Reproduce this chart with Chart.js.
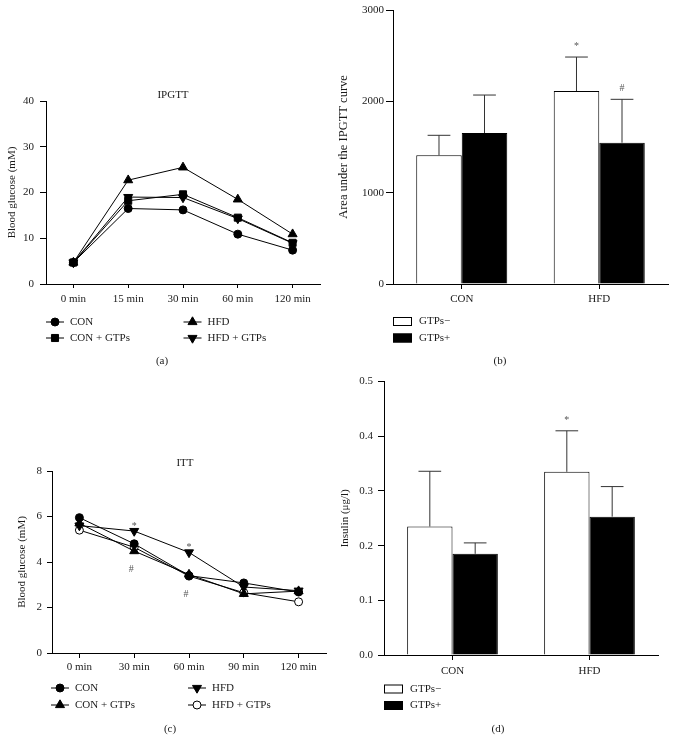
<!DOCTYPE html>
<html>
<head>
<meta charset="utf-8">
<script src="https://cdn.jsdelivr.net/npm/chart.js@4.4.1/dist/chart.umd.min.js"></script>
<style>
  html, body { margin: 0; padding: 0; background: #fff; }
  #page { position: relative; width: 676px; height: 749px; overflow: hidden; font-family: 'Liberation Serif', 'Times New Roman', serif; }
  #page canvas { position: absolute; }
  .cap { position: absolute; font-size: 11px; line-height: 12px; color: #1a1a1a; transform: translateX(-50%); }
</style>
</head>
<body>
<div id="page">
  <canvas id="chartA" width="338" height="300" style="left:0;top:80px"></canvas>
  <canvas id="chartB" width="338" height="370" style="left:338px;top:0"></canvas>
  <canvas id="chartC" width="338" height="369" style="left:0;top:380px"></canvas>
  <canvas id="chartD" width="338" height="379" style="left:338px;top:370px"></canvas>
  <div class="cap" style="left:162px;top:354px">(a)</div>
  <div class="cap" style="left:500px;top:354px">(b)</div>
  <div class="cap" style="left:170px;top:722px">(c)</div>
  <div class="cap" style="left:498px;top:722px">(d)</div>
</div>
<script>
"use strict"
// (a) IPGTT
const ipgttTimes = ["0 min", "15 min", "30 min", "60 min", "120 min"];
const ipgttCon = [4.7, 16.5, 16.2, 10.9, 7.4];
const ipgttConGtp = [4.7, 18.2, 19.6, 14.5, 9.0];
const ipgttHfd = [4.7, 22.7, 25.5, 18.5, 10.9];
const ipgttHfdGtp = [4.7, 19.0, 18.9, 14.3, 8.9];

// (b) area under the IPGTT curve
const groups = ["CON", "HFD"];
const aucMinus = [1409, 2113];
const aucMinusErr = [219, 372];
const aucPlus = [1653, 1547];
const aucPlusErr = [416, 475];
const aucMinusSig = ["", "*"];
const aucPlusSig = ["", "#"];

// (c) ITT
const ittTimes = ["0 min", "30 min", "60 min", "90 min", "120 min"];
const ittCon = [5.95, 4.8, 3.4, 3.08, 2.68];
const ittConGtp = [5.7, 4.48, 3.45, 2.6, 2.72];
const ittHfd = [5.6, 5.36, 4.42, 2.9, 2.74];
const ittHfdGtp = [5.4, 4.65, 3.38, 2.65, 2.25];
const ittHfdSig = ["", "*", "*", "", ""];
const ittGtpSig = ["", "#", "#", "", ""];

// (d) insulin
const insMinus = [0.235, 0.335];
const insMinusErr = [0.101, 0.075];
const insPlus = [0.185, 0.253];
const insPlusErr = [0.020, 0.055];
const insMinusSig = ["", "*"];

const FONT = "'Liberation Serif', 'Times New Roman', serif";
Chart.defaults.font.family = FONT;
Chart.defaults.font.size = 11;
Chart.defaults.color = "#1a1a1a";

//marker like chart.js draws it
function marker(ctx, style, r, rot, x, y) {
    ctx.beginPath();
    if (style === "circle") {
        ctx.arc(x, y, r, 0, Math.PI * 2);
    } else if (style === "rect") {
        const s = Math.SQRT1_2 * r;
        ctx.rect(x - s, y - s, 2 * s, 2 * s);
    } else {
        let rad = (rot || 0) * Math.PI / 180;
        ctx.moveTo(x + Math.sin(rad) * r, y - Math.cos(rad) * r);
        rad += Math.PI * 2 / 3;
        ctx.lineTo(x + Math.sin(rad) * r, y - Math.cos(rad) * r);
        rad += Math.PI * 2 / 3;
        ctx.lineTo(x + Math.sin(rad) * r, y - Math.cos(rad) * r);
        ctx.closePath();
    }
    ctx.fill();
    ctx.stroke();
}

// error bars, stars, title and key for one panel
function extras(cfg) {
    return {
        id: "extras",
        afterDatasetsDraw(chart) {
            const ctx = chart.ctx;
            const y = chart.scales.y;
            ctx.save();
            ctx.strokeStyle = "#333";
            ctx.lineWidth = 1;
            chart.data.datasets.forEach((ds, i) => {
                if (!ds.errors) return;
                chart.getDatasetMeta(i).data.forEach((bar, j) => {
                    const top = y.getPixelForValue(ds.data[j] + ds.errors[j]);
                    const half = bar.width / 4;
                    ctx.beginPath();
                    ctx.moveTo(bar.x, bar.y);
                    ctx.lineTo(bar.x, top);
                    ctx.moveTo(bar.x - half, top);
                    ctx.lineTo(bar.x + half, top);
                    ctx.stroke();
                });
            });
            ctx.restore();
        },
        afterDraw(chart) {
            const ctx = chart.ctx;
            const y = chart.scales.y;
            ctx.save();
            ctx.font = "11px " + FONT;
            ctx.fillStyle = "#1a1a1a";
            if (cfg.title) {
                ctx.textAlign = "center";
                ctx.textBaseline = "middle";
                ctx.fillText(cfg.title.text, cfg.title.x, cfg.title.y);
            }
            // significance marks
            ctx.font = "10px " + FONT;
            ctx.fillStyle = "#555";
            ctx.textAlign = "center";
            ctx.textBaseline = "alphabetic";
            chart.data.datasets.forEach((ds, i) => {
                const pts = chart.getDatasetMeta(i).data;
                (ds.marks || []).forEach((m, j) => {
                    if (!m) return;
                    const v = ds.data[j] + (ds.errors ? ds.errors[j] : 0);
                    ctx.fillText(m, pts[j].x, y.getPixelForValue(v) - cfg.markGap);
                });
                (ds.marksBelow || []).forEach((m, j) => {
                    if (!m) return;
                    let low = Infinity;
                    chart.data.datasets.forEach(d => { low = Math.min(low, d.data[j]); });
                    ctx.fillText(m, pts[j].x - 3, y.getPixelForValue(low) + cfg.belowGap);
                });
            });
            // key
            ctx.font = "11px " + FONT;
            ctx.textAlign = "left";
            ctx.textBaseline = "middle";
            chart.data.datasets.forEach((ds, i) => {
                const k = cfg.key[i];
                ctx.strokeStyle = "#000";
                ctx.lineWidth = 1;
                if (chart.config.type === "bar") {
                    ctx.fillStyle = ds.backgroundColor;
                    ctx.fillRect(k.x, k.y - 4.5, 19, 9);
                    ctx.strokeRect(k.x + 0.5, k.y - 4, 18, 8);
                    ctx.fillStyle = "#1a1a1a";
                    ctx.fillText(ds.label, k.x + 26, k.y);
                } else {
                    ctx.beginPath();
                    ctx.moveTo(k.x - 9, k.y);
                    ctx.lineTo(k.x + 9, k.y);
                    ctx.stroke();
                    ctx.fillStyle = ds.pointBackgroundColor;
                    marker(ctx, ds.pointStyle, ds.pointRadius, ds.pointRotation, k.x, k.y);
                    ctx.fillStyle = "#1a1a1a";
                    ctx.fillText(ds.label, k.x + 15, k.y);
                }
            });
            ctx.restore();
        }
    };
}

function yAxis(o) {
    return {
        min: o.min,
        max: o.max,
        ticks: { stepSize: o.step, padding: o.pad, callback: o.fmt || (v => String(v)) },
        grid: { drawOnChartArea: false, tickLength: o.tick, color: "#000" },
        border: { color: "#000" },
        title: { display: true, text: o.title, font: { size: o.titleSize || 11 }, padding: { top: o.titlePad, bottom: 0 } },
        afterFit: s => { s.width = o.width; }
    };
}

function xAxis(o) {
    return {
        offset: true,
        grid: { drawOnChartArea: false, offset: false, tickLength: o.tick, color: "#000" },
        border: { color: "#000" },
        ticks: { padding: o.pad, maxRotation: 0, autoSkip: false },
        afterFit: s => { s.height = 26; }
    };
}

function lineSet(label, data, style, fill, rot, r) {
    return {
        label: label,
        data: data,
        borderColor: "#000",
        borderWidth: 1,
        tension: 0,
        pointStyle: style,
        pointRadius: r,
        pointRotation: rot,
        pointBackgroundColor: fill,
        pointBorderColor: "#000",
        pointBorderWidth: 1
    };
}

const common = {
    responsive: false,
    animation: false,
    devicePixelRatio: 1,
    plugins: { legend: { display: false }, tooltip: { enabled: false }, title: { display: false } }
};

// (a)
new Chart(document.getElementById("chartA"), {
    type: "line",
    data: {
        labels: ipgttTimes,
        datasets: [
            lineSet("CON", ipgttCon, "circle", "#000", 0, 4),
            lineSet("CON + GTPs", ipgttConGtp, "rect", "#000", 0, 5),
            lineSet("HFD", ipgttHfd, "triangle", "#000", 0, 5.2),
            lineSet("HFD + GTPs", ipgttHfdGtp, "triangle", "#000", 180, 5.2)
        ]
    },
    options: Object.assign({}, common, {
        layout: { padding: { left: 0, right: 18, top: 21, bottom: 70 } },
        scales: {
            x: xAxis({ tick: 4, pad: 5 }),
            y: yAxis({ min: 0, max: 40, step: 10, pad: 6, tick: 6, width: 46, titlePad: 6, title: "Blood glucose (mM)" })
        }
    }),
    plugins: [extras({
        title: { text: "IPGTT", x: 173, y: 15 },
        markGap: 8, belowGap: 20,
        key: [{ x: 55, y: 242 }, { x: 55, y: 258 }, { x: 192.5, y: 242 }, { x: 192.5, y: 258 }]
    })]
});

// (b)
new Chart(document.getElementById("chartB"), {
    type: "bar",
    data: {
        labels: groups,
        datasets: [
            { label: "GTPs\u2212", data: aucMinus, errors: aucMinusErr, marks: aucMinusSig, backgroundColor: "#fff", borderColor: "#000", borderWidth: 1, barPercentage: 1, categoryPercentage: 0.662 },
            { label: "GTPs+", data: aucPlus, errors: aucPlusErr, marks: aucPlusSig, backgroundColor: "#000", borderColor: "#000", borderWidth: 1, barPercentage: 1, categoryPercentage: 0.662 }
        ]
    },
    options: Object.assign({}, common, {
        layout: { padding: { left: 0, right: 8, top: 10, bottom: 60 } },
        scales: {
            x: xAxis({ tick: 5, pad: 4 }),
            y: yAxis({ min: 0, max: 3000, step: 1000, pad: 2, tick: 7, width: 55, titlePad: -2, titleSize: 12.5, title: "Area under the IPGTT curve" })
        }
    }),
    plugins: [extras({
        markGap: 8.5, belowGap: 20,
        key: [{ x: 55, y: 321.5 }, { x: 55, y: 338 }]
    })]
});

// (c)
new Chart(document.getElementById("chartC"), {
    type: "line",
    data: {
        labels: ittTimes,
        datasets: [
            lineSet("CON", ittCon, "circle", "#000", 0, 4),
            lineSet("CON + GTPs", ittConGtp, "triangle", "#000", 0, 5.2),
            Object.assign(lineSet("HFD", ittHfd, "triangle", "#000", 180, 5.2), { marks: ittHfdSig }),
            Object.assign(lineSet("HFD + GTPs", ittHfdGtp, "circle", "#fff", 0, 4), { marksBelow: ittGtpSig })
        ]
    },
    options: Object.assign({}, common, {
        layout: { padding: { left: 0, right: 12, top: 91, bottom: 70 } },
        scales: {
            x: xAxis({ tick: 5, pad: 2.5 }),
            y: yAxis({ min: 0, max: 8, step: 2, pad: 5, tick: 5, width: 52, titlePad: 16, title: "Blood glucose (mM)" })
        }
    }),
    plugins: [extras({
        title: { text: "ITT", x: 185, y: 83 },
        markGap: 2.5, belowGap: 20.5,
        key: [{ x: 60, y: 308 }, { x: 60, y: 325 }, { x: 197, y: 308 }, { x: 197, y: 325 }]
    })]
});

// (d)
new Chart(document.getElementById("chartD"), {
    type: "bar",
    data: {
        labels: groups,
        datasets: [
            { label: "GTPs\u2212", data: insMinus, errors: insMinusErr, marks: insMinusSig, backgroundColor: "#fff", borderColor: "#000", borderWidth: 1, barPercentage: 1, categoryPercentage: 0.662 },
            { label: "GTPs+", data: insPlus, errors: insPlusErr, backgroundColor: "#000", borderColor: "#000", borderWidth: 1, barPercentage: 1, categoryPercentage: 0.662 }
        ]
    },
    options: Object.assign({}, common, {
        layout: { padding: { left: 0, right: 18, top: 10, bottom: 68 } },
        scales: {
            x: xAxis({ tick: 5, pad: 5 }),
            y: yAxis({ min: 0, max: 0.5, step: 0.1, pad: 5, tick: 6, width: 46, titlePad: 1, title: "Insulin (\u03bcg/l)", fmt: v => v.toFixed(1) })
        }
    }),
    plugins: [extras({
        markGap: 8, belowGap: 20,
        key: [{ x: 46, y: 319 }, { x: 46, y: 335.5 }]
    })]
});
</script>
</body>
</html>
